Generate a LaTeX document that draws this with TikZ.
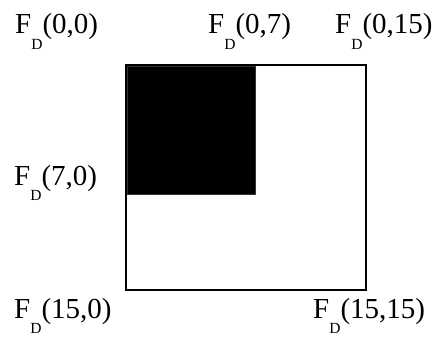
\documentclass[tikz,border=0pt]{standalone}
\usepackage{fontspec}
\setmainfont{Liberation Serif}
\newcommand{\fdlab}[1]{F\raisebox{-15.5pt}{\fontsize{15.5}{15.5}\selectfont D}(#1)}
\begin{document}
\begin{tikzpicture}[x=1pt,y=-1pt,
  lab/.style={anchor=base west,inner sep=0pt,font=\fontsize{29}{29}\selectfont},
  frame/.style={draw=black,line width=2pt},
  blk/.style={fill=black,draw=black!80,line width=0.6pt}]
\useasboundingbox (0,0) rectangle (441,340);
\draw[frame] (126,65) rectangle (366,290);
\filldraw[blk] (127,66) rectangle (255,194);
\node[lab] (a) at (15,33.5) {\fdlab{0,0}};
\node[lab] (b) at (208,33.5) {\fdlab{0,7}};
\node[lab] (c) at (335,33.5) {\fdlab{0,15}};
\node[lab] (d) at (14,185) {\fdlab{7,0}};
\node[lab] (e) at (14,318) {\fdlab{15,0}};
\node[lab] (f) at (313,318) {\fdlab{15,15}};
\end{tikzpicture}
\end{document}
